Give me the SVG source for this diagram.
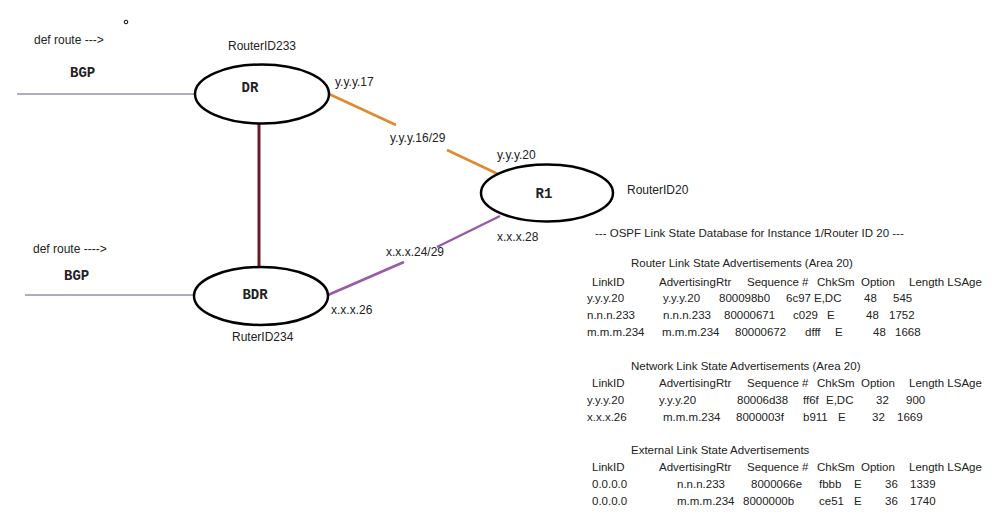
<svg xmlns="http://www.w3.org/2000/svg" width="999" height="527" viewBox="0 0 999 527">
<style>
text{font-family:"Liberation Sans",Arial,sans-serif;font-size:12px;fill:#222}
#table text{font-size:11.5px}
.b{font-family:"Liberation Mono","Courier New",monospace;font-weight:bold;font-size:14px}
.n ellipse{fill:#fff;stroke:#000;stroke-width:2.5}
</style>
<rect width="999" height="527" fill="#fff"/>
<circle cx="126" cy="22" r="1.8" fill="none" stroke="#000"/>
<g id="connectors" fill="none">
<line x1="17" y1="94" x2="195" y2="94" stroke="#5a5a90"/>
<line x1="25" y1="295" x2="194" y2="295" stroke="#5a5a90"/>
<line x1="259" y1="123" x2="259" y2="267" stroke="#6b1a2a" stroke-width="3"/>
<path d="M329 94 L396 125 M447 150 L500 175" stroke="#e08a30" stroke-width="2.5"/>
<path d="M328 295 L404 262 M437 247 L500 216" stroke="#9a5aa8" stroke-width="2.5"/>
</g>
<g id="DR" class="n"><ellipse cx="262" cy="94" rx="67" ry="29.5"/><text class="b" x="250" y="92" text-anchor="middle">DR</text></g>
<g id="BDR" class="n"><ellipse cx="261" cy="296" rx="67" ry="29"/><text class="b" x="255" y="299" text-anchor="middle">BDR</text></g>
<g id="R1" class="n"><ellipse cx="547" cy="193" rx="66" ry="28.5"/><text class="b" x="544" y="198" text-anchor="middle">R1</text></g>
<g id="labels">
<text x="34" y="44">def route ---&gt;</text>
<text class="b" x="70" y="77">BGP</text>
<text x="33" y="253">def route ----&gt;</text>
<text class="b" x="64" y="280">BGP</text>
<text x="228" y="50">RouterID233</text>
<text x="232" y="341">RuterID234</text>
<text x="627" y="194">RouterID20</text>
<text x="335" y="86">y.y.y.17</text>
<text x="390" y="142">y.y.y.16/29</text>
<text x="497" y="159">y.y.y.20</text>
<text x="497" y="241">x.x.x.28</text>
<text x="386" y="256">x.x.x.24/29</text>
<text x="331" y="314">x.x.x.26</text>
</g>
<g id="table">
<text x="595" y="237">--- OSPF Link State Database for Instance 1/Router ID 20 ---</text>
<text x="631" y="267">Router Link State Advertisements (Area 20)</text>
<text x="592" y="286">LinkID</text><text x="659" y="286">AdvertisingRtr</text><text x="747" y="286">Sequence #</text><text x="817" y="286">ChkSm</text><text x="861" y="286">Option</text><text x="909" y="286">Length LSAge</text>
<text x="587" y="302">y.y.y.20</text><text x="663" y="302">y.y.y.20</text><text x="719" y="302">800098b0</text><text x="786" y="302">6c97</text><text x="814" y="302">E,DC</text><text x="864" y="302">48</text><text x="893" y="302">545</text>
<text x="587" y="319">n.n.n.233</text><text x="663" y="319">n.n.n.233</text><text x="724" y="319">80000671</text><text x="793" y="319">c029</text><text x="827" y="319">E</text><text x="866" y="319">48</text><text x="889" y="319">1752</text>
<text x="587" y="336">m.m.m.234</text><text x="662" y="336">m.m.m.234</text><text x="735" y="336">80000672</text><text x="805" y="336">dfff</text><text x="835" y="336">E</text><text x="873" y="336">48</text><text x="895" y="336">1668</text>
<text x="631" y="370">Network Link State Advertisements (Area 20)</text>
<text x="592" y="387">LinkID</text><text x="659" y="387">AdvertisingRtr</text><text x="747" y="387">Sequence #</text><text x="817" y="387">ChkSm</text><text x="861" y="387">Option</text><text x="909" y="387">Length LSAge</text>
<text x="587" y="404">y.y.y.20</text><text x="659" y="404">y.y.y.20</text><text x="737" y="404">80006d38</text><text x="803" y="404">ff6f</text><text x="826" y="404">E,DC</text><text x="876" y="404">32</text><text x="906" y="404">900</text>
<text x="587" y="421">x.x.x.26</text><text x="663" y="421">m.m.m.234</text><text x="736" y="421">8000003f</text><text x="803" y="421">b911</text><text x="838" y="421">E</text><text x="872" y="421">32</text><text x="897" y="421">1669</text>
<text x="631" y="454">External Link State Advertisements</text>
<text x="592" y="471">LinkID</text><text x="659" y="471">AdvertisingRtr</text><text x="747" y="471">Sequence #</text><text x="817" y="471">ChkSm</text><text x="861" y="471">Option</text><text x="909" y="471">Length LSAge</text>
<text x="592" y="488">0.0.0.0</text><text x="677" y="488">n.n.n.233</text><text x="751" y="488">8000066e</text><text x="819" y="488">fbbb</text><text x="854" y="488">E</text><text x="885" y="488">36</text><text x="910" y="488">1339</text>
<text x="592" y="505">0.0.0.0</text><text x="677" y="505">m.m.m.234</text><text x="743" y="505">8000000b</text><text x="819" y="505">ce51</text><text x="854" y="505">E</text><text x="885" y="505">36</text><text x="910" y="505">1740</text>
</g>
</svg>
